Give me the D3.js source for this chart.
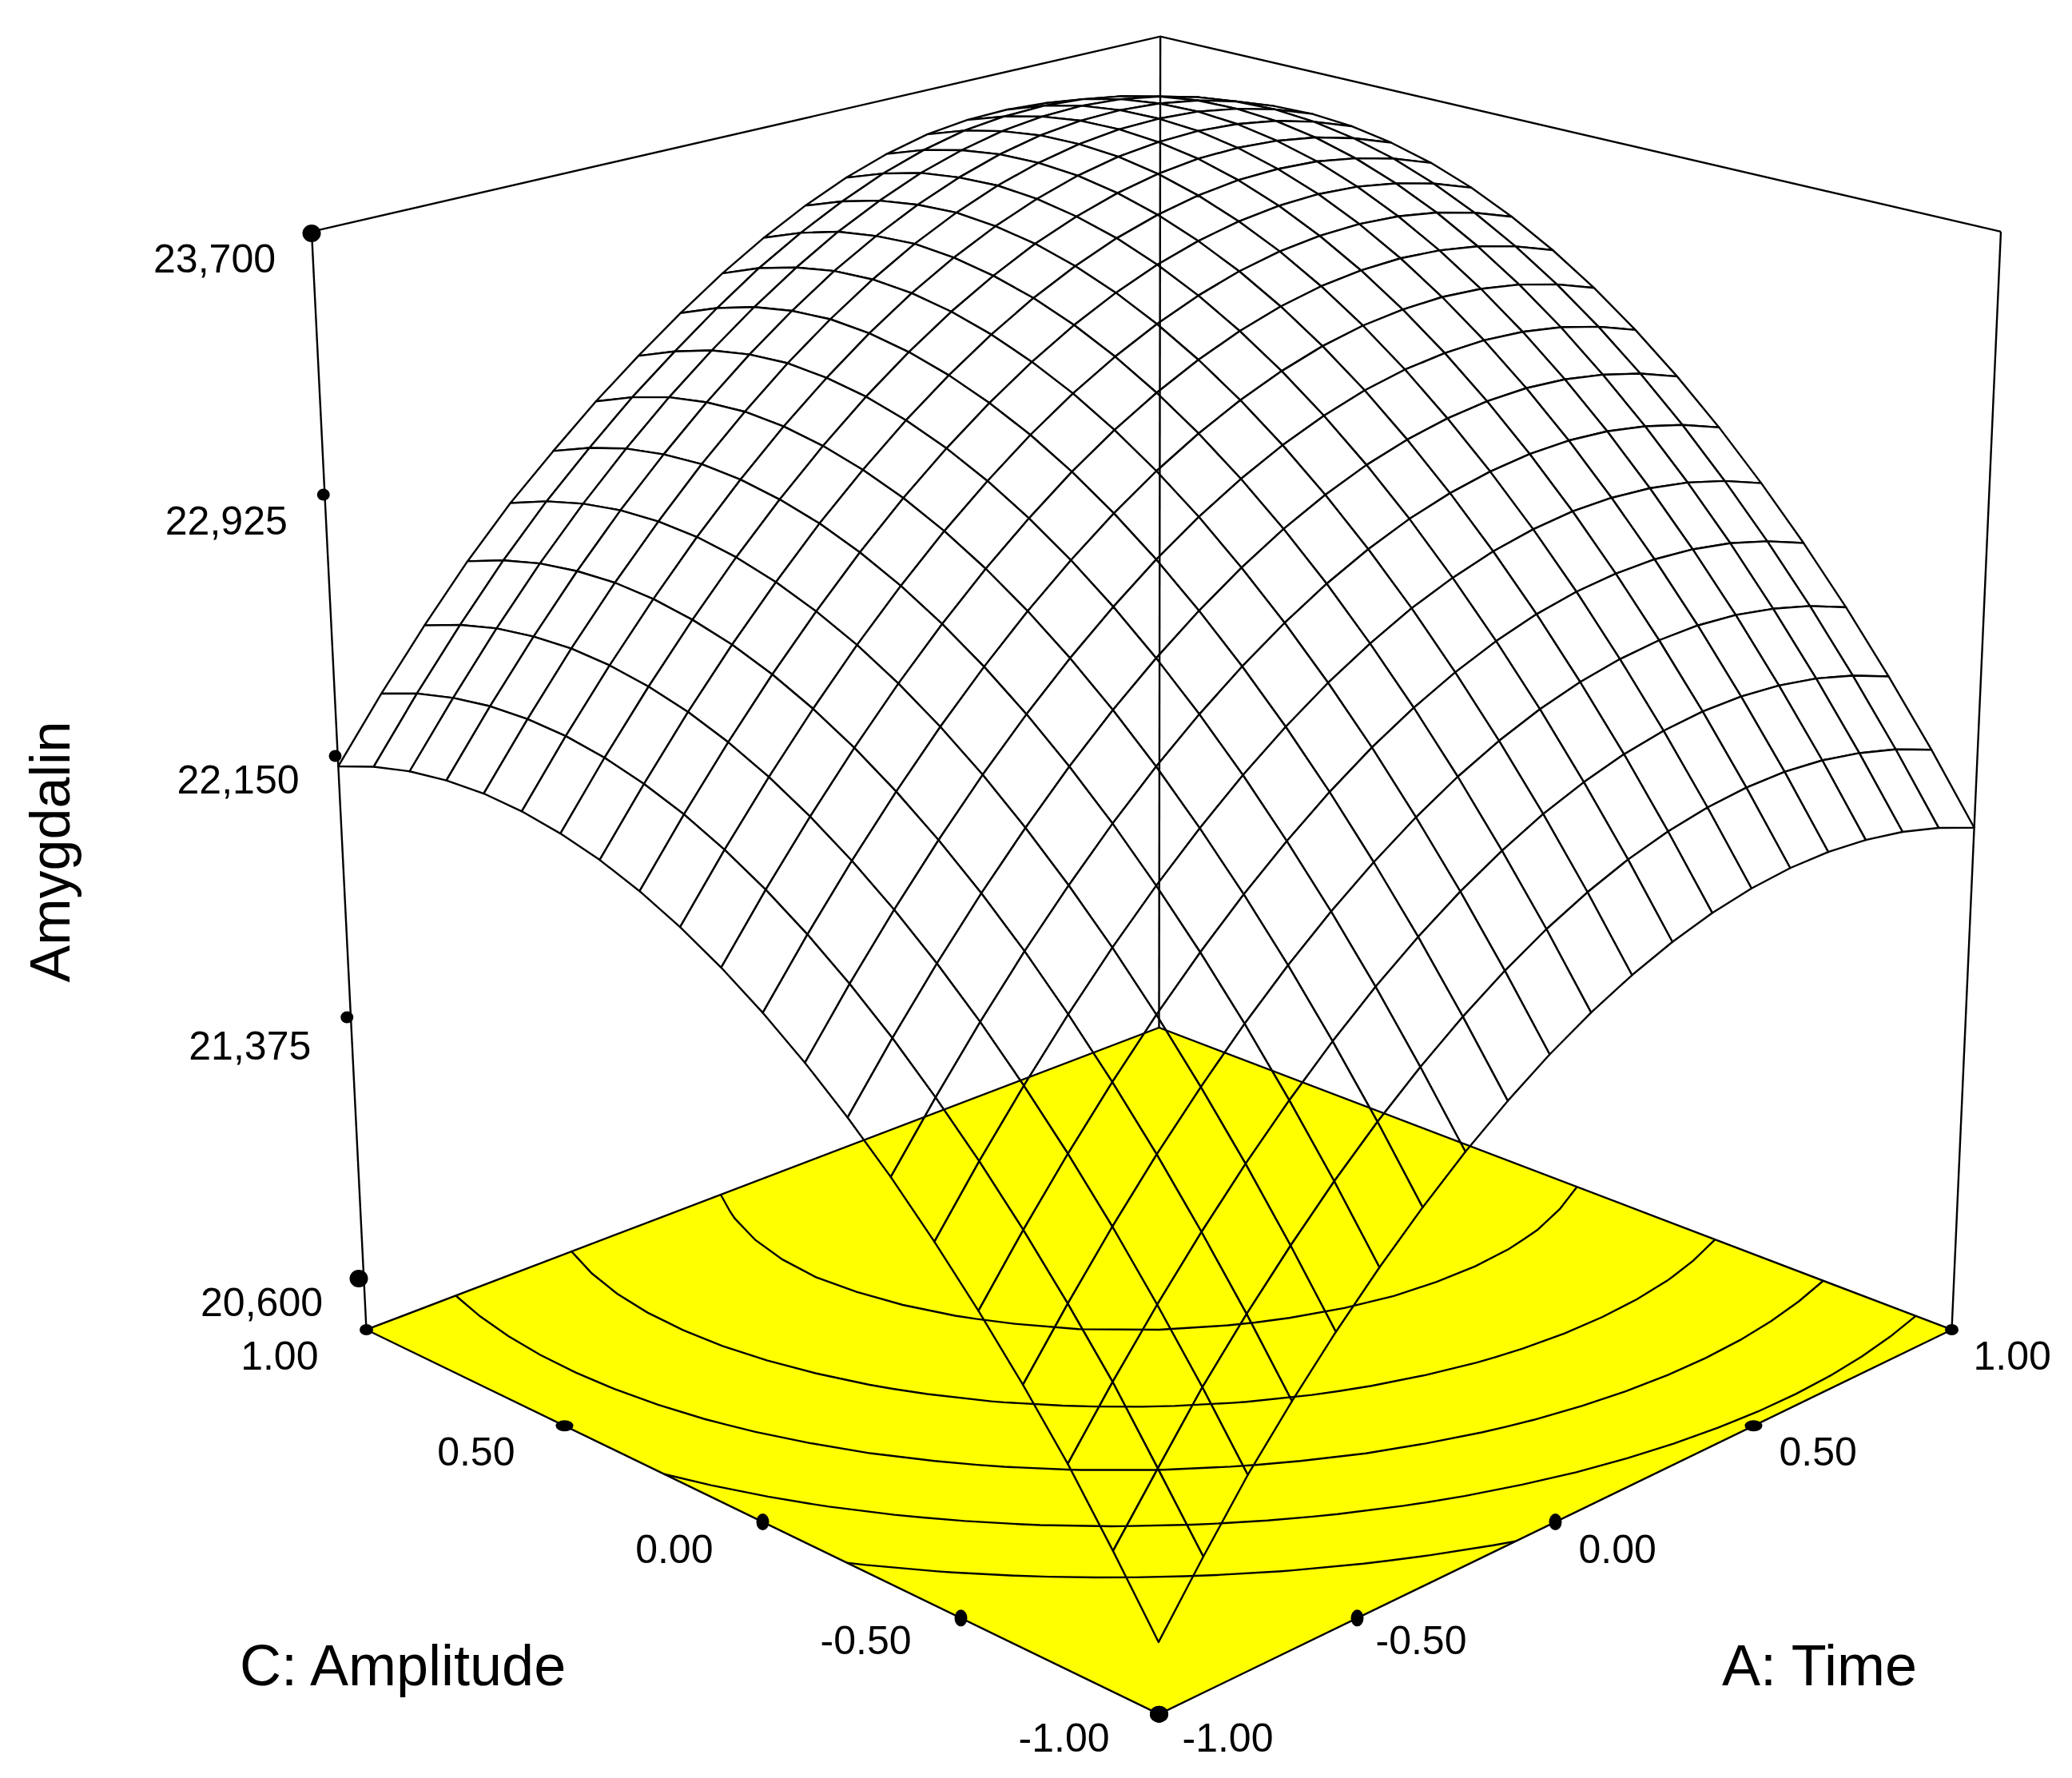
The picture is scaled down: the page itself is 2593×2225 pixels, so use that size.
<!DOCTYPE html>
<html>
<head>
<meta charset="utf-8">
<script src="https://cdnjs.cloudflare.com/ajax/libs/d3/7.8.5/d3.min.js"></script>
<style>
  html, body { margin: 0; background: #fff; }
  text { font-family: "Liberation Sans", Arial, sans-serif; fill: #000; }
</style>
</head>
<body>
<svg id="chart" width="2593" height="2225"></svg>
<script>
// coded factor levels of the mesh, same for A: Time and C: Amplitude
const gridSteps = [-1, -0.9, -0.8, -0.7, -0.6, -0.5, -0.4, -0.3, -0.2, -0.1, 0, 0.1, 0.2, 0.3, 0.4, 0.5, 0.6, 0.7, 0.8, 0.9, 1]

// one row per C level (-1 to 1), one column per A level (-1 to 1)
const amygdalin = [
  [20652,20833,21005,21156,21296,21424,21541,21647,21741,21824,21895,21955,22004,22042,22068,22083,22086,22078,22059,22028,21986],
  [20849,21023,21195,21346,21485,21614,21731,21836,21930,22013,22085,22145,22194,22231,22257,22272,22276,22268,22248,22218,22176],
  [21036,21210,21372,21523,21663,21791,21908,22014,22108,22191,22262,22323,22371,22409,22435,22450,22453,22445,22426,22395,22353],
  [21202,21375,21538,21689,21828,21957,22074,22179,22273,22356,22428,22488,22537,22574,22600,22615,22619,22611,22591,22561,22519],
  [21355,21529,21691,21842,21982,22110,22227,22332,22427,22510,22581,22641,22690,22728,22754,22768,22772,22764,22745,22714,22672],
  [21496,21670,21832,21983,22123,22251,22368,22474,22568,22651,22722,22783,22831,22869,22895,22910,22913,22905,22886,22855,22813],
  [21626,21799,21962,22113,22252,22381,22498,22603,22697,22780,22852,22912,22961,22998,23024,23039,23043,23035,23015,22985,22943],
  [21743,21917,22079,22230,22369,22498,22615,22720,22814,22897,22969,23029,23078,23115,23141,23156,23160,23152,23132,23102,23060],
  [21848,22022,22184,22335,22475,22603,22720,22825,22920,23003,23074,23134,23183,23221,23247,23261,23265,23257,23238,23207,23165],
  [21941,22115,22277,22428,22568,22696,22813,22918,23013,23096,23167,23227,23276,23314,23340,23354,23358,23350,23331,23300,23258],
  [22022,22196,22358,22509,22649,22777,22894,22999,23094,23177,23248,23308,23357,23395,23421,23435,23439,23431,23412,23381,23339],
  [22091,22265,22427,22578,22718,22846,22963,23068,23163,23246,23317,23377,23426,23464,23490,23504,23508,23500,23481,23450,23408],
  [22148,22322,22484,22635,22774,22903,23020,23125,23219,23302,23374,23434,23483,23520,23546,23561,23565,23557,23537,23507,23465],
  [22193,22366,22529,22680,22819,22948,23064,23170,23264,23347,23419,23479,23528,23565,23591,23606,23609,23602,23582,23552,23510],
  [22225,22399,22561,22712,22852,22980,23097,23203,23297,23380,23451,23512,23560,23598,23624,23639,23642,23634,23615,23584,23542],
  [22246,22420,22582,22733,22873,23001,23118,23223,23318,23401,23472,23532,23581,23619,23645,23659,23663,23655,23636,23605,23563],
  [22255,22428,22591,22742,22881,23010,23126,23232,23326,23409,23481,23541,23590,23627,23653,23668,23671,23664,23644,23614,23572],
  [22251,22425,22587,22738,22877,23003,23119,23224,23318,23402,23473,23534,23584,23623,23650,23665,23668,23660,23641,23610,23568],
  [22236,22409,22572,22723,22860,22985,23100,23203,23297,23381,23455,23516,23568,23606,23634,23649,23653,23645,23625,23595,23553],
  [22208,22382,22544,22695,22831,22952,23066,23167,23262,23348,23421,23484,23537,23578,23607,23621,23625,23617,23598,23567,23537],
  [22168,22342,22504,22655,22790,22908,23020,23121,23215,23301,23376,23441,23495,23537,23567,23582,23585,23577,23558,23539,23511]
]

const contourLevels = [21772, 22141, 22510, 22879, 23248]
const factorTicks = [-1, -0.5, 0, 0.5, 1]
const responseTicks = [20600, 21375, 22150, 22925, 23700]

const svg = d3.select('#chart')

// floor sits a little under 20,600, top of the box is 23,700
const zToHeight = d3.scaleLinear([20448, 23700], [0, 1])

function project(u, v, w) {
  const d0 = 1 + 0.06 * (u + v)
  const den = d0 - 0.0615 * w
  return [
    (1450.5 * d0 + 496 * (u - v) + (2.5 * (u + v) - 92.5) * w) / den,
    (1664 * d0 - 211.7 * (u + v) - 1392 * w) / den
  ]
}

const line = d3.line()
const polygon = pts => line(pts) + 'Z'
const lineWidth = 2.4

const cells = []
for (let j = 0; j < 20; j++) {
  for (let i = 0; i < 20; i++) {
    const corners = [[i, j], [i + 1, j], [i + 1, j + 1], [i, j + 1]]
    cells.push({
      depth: gridSteps[i] + gridSteps[j],
      pts: corners.map(c => project(gridSteps[c[0]], gridSteps[c[1]], zToHeight(amygdalin[c[1]][c[0]])))
    })
  }
}
// far cells first, white fill hides the back of the dome
cells.sort((a, b) => b.depth - a.depth)

svg.append('g').selectAll('path')
  .data(cells)
  .join('path')
  .attr('d', d => polygon(d.pts))
  .attr('fill', '#fff')
  .attr('stroke', '#000')
  .attr('stroke-width', lineWidth)
  .attr('stroke-linejoin', 'round')

const boxTop = [[-1, 1], [1, 1], [1, -1]].map(c => project(c[0], c[1], 1))
const box = svg.append('g').attr('fill', 'none').attr('stroke', '#000').attr('stroke-width', lineWidth)
box.append('path').attr('d', line(boxTop))
;[[-1, 1], [1, 1], [1, -1]].forEach(c => {
  box.append('path').attr('d', line([project(c[0], c[1], 1), project(c[0], c[1], 0)]))
})

// multiply so the mesh stays visible through the yellow floor
const floorCorners = [[-1, -1], [1, -1], [1, 1], [-1, 1]].map(c => project(c[0], c[1], 0))
svg.append('path')
  .attr('d', polygon(floorCorners))
  .attr('fill', '#ffff00')
  .attr('stroke', '#000')
  .attr('stroke-width', lineWidth)
  .style('mix-blend-mode', 'multiply')

// contour rings run round the outside of the grid, keep only the part inside
const inGrid = p => p[0] >= 0.5 && p[0] <= 20.5 && p[1] >= 0.5 && p[1] <= 20.5
function ringToLines(ring) {
  const lines = []
  let cur = []
  ring.forEach(p => {
    if (inGrid(p)) {
      cur.push(p)
    } else {
      if (cur.length > 1) lines.push(cur)
      cur = []
    }
  })
  if (cur.length > 1) lines.push(cur)
  if (lines.length > 1 && inGrid(ring[0])) {
    const last = lines.pop()
    lines[0] = last.concat(lines[0].slice(1))
  }
  return lines
}

const gridPos = d3.scaleLinear([0.5, 20.5], [-1, 1])
const contours = d3.contours().size([21, 21]).thresholds(contourLevels)(amygdalin.flat())
const contourPaths = []
contours.forEach(c => c.coordinates.forEach(poly => poly.forEach(ring => {
  ringToLines(ring).forEach(l => contourPaths.push(l.map(p => project(gridPos(p[0]), gridPos(p[1]), 0))))
})))
svg.append('g').selectAll('path')
  .data(contourPaths)
  .join('path')
  .attr('d', d => line(d))
  .attr('fill', 'none')
  .attr('stroke', '#000')
  .attr('stroke-width', lineWidth)

// ticks on the floor edges are spaced evenly on screen
const near = project(-1, -1, 0)
const leftEnd = project(-1, 1, 0)
const rightEnd = project(1, -1, 0)
const cX = d3.scaleLinear([-1, 1], [near[0], leftEnd[0]])
const cY = d3.scaleLinear([-1, 1], [near[1], leftEnd[1]])
const aX = d3.scaleLinear([-1, 1], [near[0], rightEnd[0]])
const aY = d3.scaleLinear([-1, 1], [near[1], rightEnd[1]])
const zY = d3.scaleLinear([20600, 23700], [1600, 292])
const zX = d3.scaleLinear([20600, 23700], [449, 390])

const tickRx = [11.5, 8, 8, 11, 8.5]
const tickRy = [10.5, 10.5, 10.5, 7, 7]

const ticks = svg.append('g').attr('fill', '#000')
factorTicks.forEach((t, i) => {
  ticks.append('ellipse').attr('cx', cX(t)).attr('cy', cY(t)).attr('rx', tickRx[i]).attr('ry', tickRy[i])
  ticks.append('ellipse').attr('cx', aX(t)).attr('cy', aY(t)).attr('rx', tickRx[i]).attr('ry', tickRy[i])
})
responseTicks.forEach((t, i) => {
  const end = i === 0 || i === responseTicks.length - 1
  ticks.append('ellipse').attr('cx', zX(t)).attr('cy', zY(t))
    .attr('rx', end ? 11.5 : 8).attr('ry', end ? 11 : 7.5)
})

// label placement nudged per tick, the original is not quite regular
const floorBaseline = [2192, 2070, 1956, 1834, 1714]
const leftNudge = [-62, -62, -62, -62, -60]
const rightNudge = [29, 23, 29, 32, 27]
const zBaselineNudge = [47, 53, 47, 50, 49]
const labelFmt = t => d3.format('.2f')(t).replace('\u2212', '-')

const labels = svg.append('g').attr('font-size', 50)
factorTicks.forEach((t, i) => {
  labels.append('text').text(labelFmt(t))
    .attr('x', cX(t) + leftNudge[i]).attr('y', floorBaseline[i]).attr('text-anchor', 'end')
  labels.append('text').text(labelFmt(t))
    .attr('x', aX(t) + rightNudge[i]).attr('y', floorBaseline[i])
})
const zFmt = d3.format(',')
responseTicks.forEach((t, i) => {
  labels.append('text').text(zFmt(t))
    .attr('x', zX(t) - 45).attr('y', zY(t) + zBaselineNudge[i]).attr('text-anchor', 'end')
})

const titles = svg.append('g').attr('font-size', 72)
titles.append('text').text('C: Amplitude').attr('x', 300).attr('y', 2109)
titles.append('text').text('A: Time').attr('x', 2155).attr('y', 2109)
titles.append('text').text('Amygdalin')
  .attr('font-size', 70)
  .attr('transform', 'translate(87,1066) rotate(-90)')
  .attr('text-anchor', 'middle')
</script>
</body>
</html>
